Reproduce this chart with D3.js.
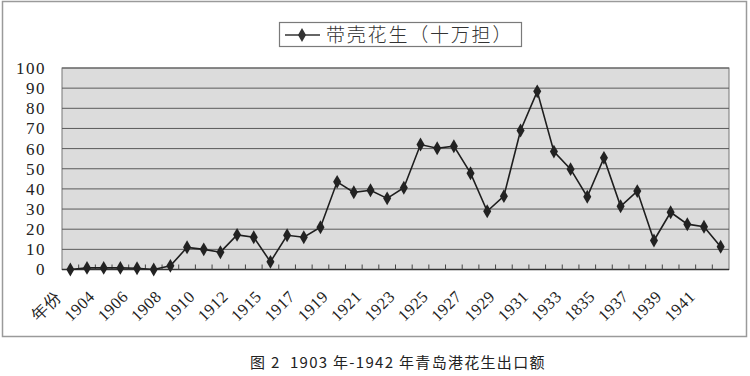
<!DOCTYPE html>
<html>
<head>
<meta charset="utf-8">
<script src="https://cdn.jsdelivr.net/npm/d3@7"></script>
<style>
  body { margin: 0; background: #fff; }
  .serif { font-family: 'Liberation Serif', 'Times New Roman', 'DejaVu Serif', serif; }
</style>
</head>
<body>
<script>
(function() {
    'use strict';

    // categories (first one is the header cell from the source sheet)
    var years = ['年份', '1903', '1904', '1905', '1906', '1907', '1908', '1909', '1910', '1911',
        '1912', '1913', '1915', '1916', '1917', '1918', '1919', '1920', '1921', '1922',
        '1923', '1924', '1925', '1926', '1927', '1928', '1929', '1930', '1931', '1932',
        '1933', '1934', '1835', '1936', '1937', '1938', '1939', '1940', '1941', '1942'];

    // 带壳花生 (十万担)
    var peanuts = [0, 0.8, 0.8, 0.8, 0.6, 0, 1.8, 11, 10, 8.6,
        17.2, 16, 3.8, 17, 16, 21, 43.5, 38.3, 39.3, 35.3,
        40.6, 62, 60.2, 61.2, 47.8, 28.9, 36.4, 69, 88.4, 58.5,
        49.8, 36.1, 55.4, 31.4, 38.9, 14.4, 28.4, 22.5, 21.2, 11.3];

    var yTicks = [0, 10, 20, 30, 40, 50, 60, 70, 80, 90, 100];

    var width = 750, height = 376;
    var plot = { left: 62, right: 729, top: 68, bottom: 269.5 };
    var serifFont = "'Liberation Serif', 'Times New Roman', 'DejaVu Serif', serif";

    var svg = d3.select('body').append('svg')
        .attr('width', width)
        .attr('height', height);

    // outer frame
    svg.append('rect')
        .attr('x', 2.5).attr('y', 1.5)
        .attr('width', 744).attr('height', 335)
        .style('fill', '#fff')
        .style('stroke', '#9a9a9a')
        .style('stroke-width', 1.5);

    var x = d3.scaleBand()
        .domain(years)
        .range([plot.left, plot.right])
        .padding(0);

    var y = d3.scaleLinear()
        .domain([0, 100])
        .range([plot.bottom, plot.top]);

    // plot area
    svg.append('rect')
        .attr('x', plot.left).attr('y', plot.top)
        .attr('width', plot.right - plot.left)
        .attr('height', plot.bottom - plot.top)
        .style('fill', '#dcdcdc')
        .style('stroke', '#777')
        .style('stroke-width', 1);

    // gridlines
    svg.append('g')
        .selectAll('line')
        .data(yTicks.filter(function(d) { return d > 0; }))
        .enter().append('line')
        .attr('x1', plot.left).attr('x2', plot.right)
        .attr('y1', function(d) { return y(d); })
        .attr('y2', function(d) { return y(d); })
        .style('stroke', '#5a5a5a')
        .style('stroke-width', 1);

    // y axis labels
    var yAxis = d3.axisLeft(y)
        .tickValues(yTicks)
        .tickSize(0)
        .tickPadding(0);

    svg.append('g')
        .attr('transform', 'translate(46,0)')
        .call(yAxis)
        .attr('font-family', serifFont)
        .attr('font-size', null)
        .call(function(g) {
            g.select('.domain').remove();
            g.selectAll('text')
                .attr('class', 'serif')
                .style('font-family', serifFont)
                .style('font-size', '17px')
                .style('letter-spacing', '1.5px')
                .style('fill', '#222');
        });

    // x axis: ticks between categories
    var bw = x.bandwidth();
    var xAxis = svg.append('g');
    xAxis.append('line')
        .attr('x1', plot.left).attr('x2', plot.right)
        .attr('y1', plot.bottom).attr('y2', plot.bottom)
        .style('stroke', '#333')
        .style('stroke-width', 1.5);

    xAxis.selectAll('line.tick')
        .data(years.slice(1))
        .enter().append('line')
        .attr('class', 'tick')
        .attr('x1', function(d) { return x(d); })
        .attr('x2', function(d) { return x(d); })
        .attr('y1', plot.bottom)
        .attr('y2', plot.bottom - 5)
        .style('stroke', '#444')
        .style('stroke-width', 1);

    xAxis.selectAll('text')
        .data(years.filter(function(d, i) { return i % 2 === 0; }))
        .enter().append('text')
        .attr('class', 'serif')
        .attr('text-anchor', 'end')
        .attr('dy', '0.35em')
        .attr('transform', function(d) {
            return 'translate(' + (x(d) + bw / 2 - 12) + ',' + (plot.bottom + 24) + ') rotate(-45)';
        })
        .style('font-family', serifFont)
        .style('font-size', '16.5px')
        .style('letter-spacing', '0.5px')
        .style('fill', '#222')
        .text(function(d) { return d; });

    // line
    var line = d3.line()
        .x(function(d, i) { return x(years[i]) + bw / 2; })
        .y(function(d) { return y(d); });

    svg.append('path')
        .datum(peanuts)
        .attr('d', line)
        .style('fill', 'none')
        .style('stroke', '#1e1e1e')
        .style('stroke-width', 1.6);

    var diamond = d3.symbol().type(d3.symbolDiamond).size(56);

    svg.append('g')
        .selectAll('path')
        .data(peanuts)
        .enter().append('path')
        .attr('d', diamond)
        .attr('transform', function(d, i) {
            return 'translate(' + (x(years[i]) + bw / 2) + ',' + y(d) + ')';
        })
        .style('fill', '#222');

    // legend
    var legend = svg.append('g');
    legend.append('rect')
        .attr('x', 279.5).attr('y', 22.5)
        .attr('width', 242).attr('height', 24)
        .style('fill', '#fff')
        .style('stroke', '#7a7a7a')
        .style('stroke-width', 1.2);
    legend.append('line')
        .attr('x1', 285).attr('x2', 320)
        .attr('y1', 35).attr('y2', 35)
        .style('stroke', '#333')
        .style('stroke-width', 1.6);
    legend.append('path')
        .attr('d', diamond)
        .attr('transform', 'translate(302,35)')
        .style('fill', '#333');
    legend.append('text')
        .attr('x', 326).attr('y', 35)
        .attr('dy', '0.36em')
        .style('font-family', '"Noto Sans CJK SC", sans-serif')
        .style('font-size', '19px')
        .style('font-weight', 300)
        .style('letter-spacing', '1.8px')
        .style('fill', '#333')
        .text('带壳花生（十万担）');

    // caption
    svg.append('text')
        .attr('x', 250).attr('y', 368)
        .style('font-family', '"Noto Sans CJK SC", sans-serif')
        .style('font-size', '15px')
        .style('font-weight', 400)
        .style('letter-spacing', '1.3px')
        .style('white-space', 'pre')
        .style('fill', '#222')
        .text('图 2  1903 年-1942 年青岛港花生出口额');

}());
</script>
</body>
</html>
